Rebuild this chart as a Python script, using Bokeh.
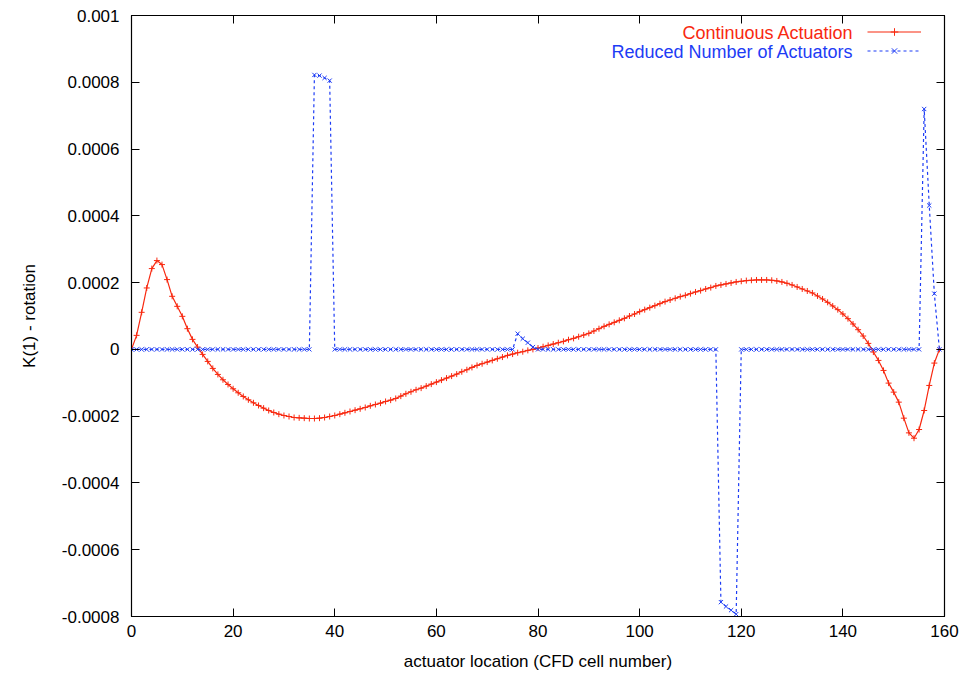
from bokeh.plotting import figure
from bokeh.models import (ColumnDataSource, Range1d, FixedTicker, LinearAxis, Legend,
                          LegendItem, Label, CustomJSTickFormatter)
from bokeh.embed import file_html
from bokeh.resources import INLINE

cells = list(range(160))

continuous = [
    0.0, 0.000042, 0.000111, 0.000184, 0.000242, 0.000266, 0.000254, 0.000209, 0.000159, 0.000129,
    0.000099, 0.000062, 0.000030, 0.000007, -0.000015, -0.000036, -0.000057, -0.000075, -0.000091, -0.000105,
    -0.000118, -0.000130, -0.000141, -0.000151, -0.000160, -0.000168, -0.000176, -0.000183, -0.000189, -0.000194,
    -0.000198, -0.000201, -0.000204, -0.000205, -0.000206, -0.000207, -0.000207, -0.000206, -0.000204, -0.000201,
    -0.000198, -0.000194, -0.000190, -0.000186, -0.000182, -0.000178, -0.000174, -0.000169, -0.000165, -0.000161,
    -0.000156, -0.000152, -0.000147, -0.000140, -0.000133, -0.000127, -0.000121, -0.000116, -0.000110, -0.000104,
    -0.000098, -0.000092, -0.000086, -0.000080, -0.000074, -0.000067, -0.000061, -0.000054, -0.000048, -0.000043,
    -0.000038, -0.000033, -0.000028, -0.000023, -0.000018, -0.000014, -0.000010, -0.000007, -0.000003, 0.0,
    0.000004, 0.000008, 0.000012, 0.000016, 0.000020, 0.000024, 0.000029, 0.000033, 0.000038, 0.000043,
    0.000048, 0.000055, 0.000062, 0.000069, 0.000075, 0.000081, 0.000087, 0.000093, 0.000100, 0.000106,
    0.000113, 0.000119, 0.000125, 0.000131, 0.000137, 0.000143, 0.000148, 0.000153, 0.000158, 0.000162,
    0.000167, 0.000172, 0.000176, 0.000181, 0.000185, 0.000190, 0.000193, 0.000196, 0.000199, 0.000202,
    0.000204, 0.000206, 0.000207, 0.000208, 0.000208, 0.000208, 0.000207, 0.000205, 0.000202, 0.000198,
    0.000193, 0.000187, 0.000181, 0.000175, 0.000169, 0.000160, 0.000151, 0.000141, 0.000130, 0.000119,
    0.000106, 0.000092, 0.000076, 0.000059, 0.000040, 0.000018, -0.000008, -0.000033, -0.000063, -0.000101,
    -0.000128, -0.000158, -0.000206, -0.000250, -0.000266, -0.000240, -0.000183, -0.000108, -0.000041, 0.0,
]

reduced = [
    0, 0, 0, 0, 0, 0, 0, 0, 0, 0,
    0, 0, 0, 0, 0, 0, 0, 0, 0, 0,
    0, 0, 0, 0, 0, 0, 0, 0, 0, 0,
    0, 0, 0, 0, 0, 0, 0.000822, 0.000820, 0.000813, 0.000805,
    0, 0, 0, 0, 0, 0, 0, 0, 0, 0,
    0, 0, 0, 0, 0, 0, 0, 0, 0, 0,
    0, 0, 0, 0, 0, 0, 0, 0, 0, 0,
    0, 0, 0, 0, 0, 0, 0.000047, 0.000032, 0.000020, 0.000007,
    0, 0, 0, 0, 0, 0, 0, 0, 0, 0,
    0, 0, 0, 0, 0, 0, 0, 0, 0, 0,
    0, 0, 0, 0, 0, 0, 0, 0, 0, 0,
    0, 0, 0, 0, 0, 0, -0.000757, -0.000770, -0.000781, -0.000793,
    0, 0, 0, 0, 0, 0, 0, 0, 0, 0,
    0, 0, 0, 0, 0, 0, 0, 0, 0, 0,
    0, 0, 0, 0, 0, 0, 0, 0, 0, 0,
    0, 0, 0, 0, 0, 0, 0.000720, 0.000431, 0.000167, 0.0,
]

x_ticks = [0, 20, 40, 60, 80, 100, 120, 140, 160]
y_ticks = [-0.0008, -0.0006, -0.0004, -0.0002, 0.0, 0.0002, 0.0004, 0.0006, 0.0008, 0.001]

series_names = ["Continuous Actuation", "Reduced Number of Actuators"]
RED = "#f8280f"
BLUE = "#1d3cf5"
FONT = "Liberation Sans"

src = ColumnDataSource(dict(x=cells, cont=continuous, red=reduced))

p = figure(width=964, height=682, output_backend="svg", toolbar_location=None,
           x_range=Range1d(0, 160), y_range=Range1d(-0.0008, 0.001),
           min_border_left=131, min_border_right=20, min_border_top=15, min_border_bottom=66,
           x_axis_label="actuator location (CFD cell number)", y_axis_label="K(1) - rotation")
p.xgrid.visible = False
p.ygrid.visible = False
p.outline_line_color = "black"
p.outline_line_width = 1.2

fmt = CustomJSTickFormatter(code="const v = Math.round(tick*1e5)/1e5; return v.toString();")
blank = CustomJSTickFormatter(code="return '';")

for ax in p.xaxis + p.yaxis:
    ax.major_tick_in = 8
    ax.major_tick_out = 0
    ax.minor_tick_line_color = None
    ax.axis_line_color = "black"
    ax.major_tick_line_color = "black"
    ax.major_label_text_font = FONT
    ax.major_label_text_font_size = "17px"
    ax.major_label_text_color = "black"
    ax.axis_label_text_font = FONT
    ax.axis_label_text_font_size = "17px"
    ax.axis_label_text_font_style = "normal"
    ax.axis_label_text_color = "black"

p.xaxis.ticker = FixedTicker(ticks=x_ticks)
p.yaxis.ticker = FixedTicker(ticks=y_ticks)
p.yaxis.formatter = fmt
p.xaxis.major_label_standoff = 8
p.yaxis.major_label_standoff = 12
p.xaxis.axis_label_standoff = 12
p.yaxis.axis_label_standoff = 20

for loc, ticks in (("right", y_ticks), ("above", x_ticks)):
    ax = LinearAxis(ticker=FixedTicker(ticks=ticks), formatter=blank,
                    major_label_text_color=None, major_label_standoff=0,
                    major_tick_in=8, major_tick_out=0, minor_tick_line_color=None,
                    axis_line_color="black", major_tick_line_color="black")
    p.add_layout(ax, loc)

r_line = p.line("x", "cont", source=src, line_color=RED, line_width=1.2)
r_pts = p.scatter("x", "cont", source=src, marker="cross", size=6, line_color=RED, line_width=1)
b_line = p.line("x", "red", source=src, line_color=BLUE, line_width=1.2, line_dash="3 3")
b_pts = p.scatter("x", "red", source=src, marker="x", size=6, line_color=BLUE, line_width=1)

legend = Legend(items=[LegendItem(label=" ", renderers=[r_line, r_pts]),
                       LegendItem(label=" ", renderers=[b_line, b_pts])],
                location=(736, 556), padding=0, margin=0, spacing=0,
                glyph_width=54, glyph_height=19, label_width=0, label_standoff=0,
                label_text_font_size="1px", label_text_color=None, label_height=19,
                border_line_color=None, background_fill_alpha=0)
p.add_layout(legend, "center")

for name, color, yy in ((series_names[0], RED, 584), (series_names[1], BLUE, 565)):
    p.add_layout(Label(x=722, y=yy, x_units="screen", y_units="screen", text=name,
                       text_align="right", text_baseline="middle", text_color=color,
                       text_font=FONT, text_font_size="18px"))

open("out.html", "w").write(file_html(p, INLINE))
